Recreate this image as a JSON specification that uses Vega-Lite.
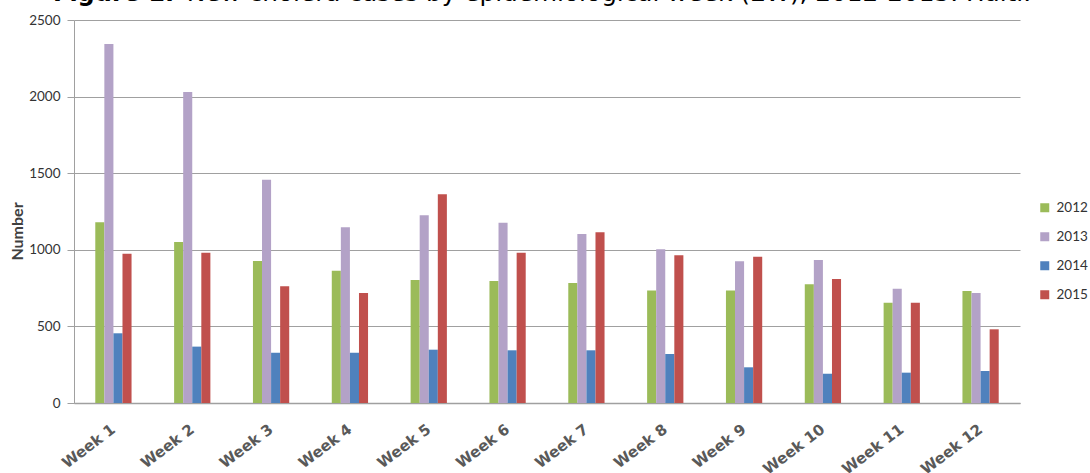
{
  "$schema": "https://vega.github.io/schema/vega-lite/v6.json",
  "width": 946,
  "height": 383,
  "autosize": {"type": "none"},
  "padding": {"left": 74, "top": 20, "right": 70, "bottom": 70},
  "background": "white",
  "title": {
    "text": "Figure 1.",
    "subtitle": "\u200b\u00a0\u00a0\u00a0\u00a0\u00a0\u00a0\u00a0\u00a0\u00a0\u00a0\u00a0\u00a0\u00a0\u00a0\u00a0\u00a0\u00a0New cholera cases by epidemiological week (EW), 2012-2015. Haiti.",
    "anchor": "start",
    "frame": "group",
    "dx": -21,
    "dy": -2,
    "font": "DejaVu Sans",
    "fontSize": 24,
    "fontWeight": "bold",
    "color": "#000000",
    "subtitleFont": "DejaVu Sans",
    "subtitleFontSize": 24.75,
    "subtitleFontWeight": "normal",
    "subtitleColor": "#000000",
    "subtitlePadding": -25,
    "offset": 4
  },
  "data": {
    "values": [
      {"week": "Week 1", "year": "2012", "cases": 1180},
      {"week": "Week 1", "year": "2013", "cases": 2343},
      {"week": "Week 1", "year": "2014", "cases": 455},
      {"week": "Week 1", "year": "2015", "cases": 975},
      {"week": "Week 2", "year": "2012", "cases": 1051},
      {"week": "Week 2", "year": "2013", "cases": 2030},
      {"week": "Week 2", "year": "2014", "cases": 368},
      {"week": "Week 2", "year": "2015", "cases": 981},
      {"week": "Week 3", "year": "2012", "cases": 927},
      {"week": "Week 3", "year": "2013", "cases": 1458},
      {"week": "Week 3", "year": "2014", "cases": 328},
      {"week": "Week 3", "year": "2015", "cases": 762},
      {"week": "Week 4", "year": "2012", "cases": 864},
      {"week": "Week 4", "year": "2013", "cases": 1147},
      {"week": "Week 4", "year": "2014", "cases": 328},
      {"week": "Week 4", "year": "2015", "cases": 718},
      {"week": "Week 5", "year": "2012", "cases": 803},
      {"week": "Week 5", "year": "2013", "cases": 1225},
      {"week": "Week 5", "year": "2014", "cases": 348},
      {"week": "Week 5", "year": "2015", "cases": 1362},
      {"week": "Week 6", "year": "2012", "cases": 796},
      {"week": "Week 6", "year": "2013", "cases": 1177},
      {"week": "Week 6", "year": "2014", "cases": 344},
      {"week": "Week 6", "year": "2015", "cases": 981},
      {"week": "Week 7", "year": "2012", "cases": 783},
      {"week": "Week 7", "year": "2013", "cases": 1103},
      {"week": "Week 7", "year": "2014", "cases": 344},
      {"week": "Week 7", "year": "2015", "cases": 1114},
      {"week": "Week 8", "year": "2012", "cases": 735},
      {"week": "Week 8", "year": "2013", "cases": 1003},
      {"week": "Week 8", "year": "2014", "cases": 320},
      {"week": "Week 8", "year": "2015", "cases": 964},
      {"week": "Week 9", "year": "2012", "cases": 735},
      {"week": "Week 9", "year": "2013", "cases": 925},
      {"week": "Week 9", "year": "2014", "cases": 233},
      {"week": "Week 9", "year": "2015", "cases": 955},
      {"week": "Week 10", "year": "2012", "cases": 775},
      {"week": "Week 10", "year": "2013", "cases": 933},
      {"week": "Week 10", "year": "2014", "cases": 191},
      {"week": "Week 10", "year": "2015", "cases": 809},
      {"week": "Week 11", "year": "2012", "cases": 655},
      {"week": "Week 11", "year": "2013", "cases": 746},
      {"week": "Week 11", "year": "2014", "cases": 198},
      {"week": "Week 11", "year": "2015", "cases": 655},
      {"week": "Week 12", "year": "2012", "cases": 731},
      {"week": "Week 12", "year": "2013", "cases": 718},
      {"week": "Week 12", "year": "2014", "cases": 209},
      {"week": "Week 12", "year": "2015", "cases": 481}
    ]
  },
  "mark": {"type": "bar"},
  "encoding": {
    "x": {
      "field": "week",
      "type": "nominal",
      "sort": ["Week 1", "Week 2", "Week 3", "Week 4", "Week 5", "Week 6", "Week 7", "Week 8", "Week 9", "Week 10", "Week 11", "Week 12"],
      "scale": {"paddingInner": 0.54, "paddingOuter": 0.27},
      "axis": {
        "title": null,
        "labelAngle": -37,
        "labelAlign": "right",
        "labelBaseline": "middle",
        "labelPadding": 24,
        "labelFont": "DejaVu Sans",
        "labelFontSize": 15,
        "labelFontWeight": "bold",
        "labelColor": "#595959",
        "ticks": false,
        "domainColor": "#A0A0A0",
        "domainWidth": 1.5,
        "grid": false
      }
    },
    "xOffset": {"field": "year", "type": "nominal"},
    "y": {
      "field": "cases",
      "type": "quantitative",
      "scale": {"domain": [0, 2500], "nice": false},
      "axis": {
        "title": "Number",
        "titleFont": "Lato",
        "titleFontSize": 16,
        "titleFontWeight": "bold",
        "titleColor": "#404040",
        "titlePadding": 3,
        "titleY": 211,
        "values": [0, 500, 1000, 1500, 2000, 2500],
        "format": "d",
        "labelFont": "Lato",
        "labelFontSize": 13.5,
        "labelColor": "#333333",
        "labelPadding": 7,
        "tickSize": 7,
        "tickColor": "#A0A0A0",
        "domainColor": "#A0A0A0",
        "gridColor": "#A0A0A0",
        "grid": true
      }
    },
    "color": {
      "field": "year",
      "type": "nominal",
      "scale": {"domain": ["2012", "2013", "2014", "2015"], "range": ["#9BBB59", "#B3A2C7", "#4F81BD", "#C0504D"]},
      "legend": {
        "title": null,
        "orient": "none",
        "legendX": 964,
        "legendY": 181,
        "symbolType": "square",
        "symbolSize": 81,
        "symbolStrokeWidth": 0,
        "labelFont": "Lato",
        "labelFontSize": 13.5,
        "labelColor": "#333333",
        "labelOffset": 5,
        "rowPadding": 14
      }
    }
  },
  "config": {"view": {"stroke": null}}
}
